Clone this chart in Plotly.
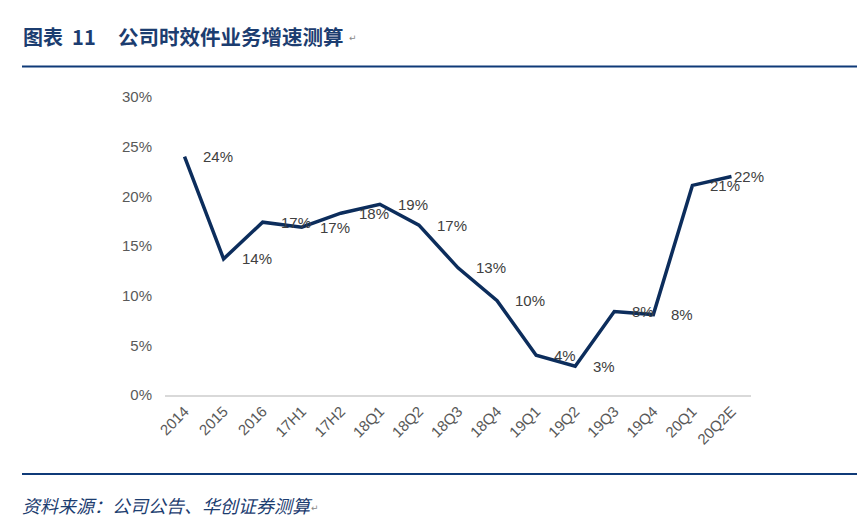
import plotly.graph_objects as go

categories = ["2014", "2015", "2016", "17H1", "17H2", "18Q1", "18Q2", "18Q3",
              "18Q4", "19Q1", "19Q2", "19Q3", "19Q4", "20Q1", "20Q2E"]
growth = [0.240, 0.137, 0.174, 0.169, 0.183, 0.192, 0.171, 0.128,
          0.095, 0.040, 0.029, 0.084, 0.081, 0.211, 0.220]
labels = ["24%", "14%", "17%", "17%", "18%", "19%", "17%", "13%",
          "10%", "4%", "3%", "8%", "8%", "21%", "22%"]
y_ticks = [0, 0.05, 0.10, 0.15, 0.20, 0.25, 0.30]

# page body has an 8px margin; figure fills the rest of the 865x523 window
OFF = 8
W, H = 865 - OFF, 523 - OFF
def py(p):
    return 1 - (p - OFF) / H
def px(p):
    return (p - OFF) / W

TEXT_FONT = "Liberation Sans, Arial, sans-serif"
CJK = "Noto Sans CJK SC"
NAVY = "#0f3a78"

fig = go.Figure()
fig.add_trace(go.Scatter(
    x=categories, y=growth, mode="lines",
    line=dict(color="#0c2d5c", width=3.5),
    hoverinfo="skip", showlegend=False,
))

annotations = []
n = len(categories)
for i, (v, t) in enumerate(zip(growth, labels)):
    # last label is pulled in towards its point to stay inside the chart area
    shift = 1 if i == n - 1 else 16
    annotations.append(dict(
        x=i, y=v, xref="x", yref="y", text=t, showarrow=False,
        xanchor="left", yanchor="middle", xshift=shift,
        font=dict(family=TEXT_FONT, size=15, color="#404040"),
    ))

# title
annotations.append(dict(x=px(21), y=py(36), xref="paper", yref="paper",
    text="<b>图表  11</b>", showarrow=False, xanchor="left", yanchor="middle",
    font=dict(family=CJK, size=20, color="#1c3d70")))
annotations.append(dict(x=px(116), y=py(36), xref="paper", yref="paper",
    text="<b>公司时效件业务增速测算</b>", showarrow=False, xanchor="left", yanchor="middle",
    font=dict(family=CJK, size=20.5, color="#1c3d70")))
annotations.append(dict(x=px(347), y=py(38), xref="paper", yref="paper",
    text="↵", showarrow=False, xanchor="left", yanchor="middle",
    font=dict(family="DejaVu Sans", size=9, color="#888888")))
# footer
annotations.append(dict(x=px(20), y=py(505), xref="paper", yref="paper",
    text="<i>资料来源：公司公告、华创证券测算</i>", showarrow=False, xanchor="left", yanchor="middle",
    font=dict(family=CJK, size=18, color="#1c3d70")))
annotations.append(dict(x=px(309), y=py(508), xref="paper", yref="paper",
    text="↵", showarrow=False, xanchor="left", yanchor="middle",
    font=dict(family="DejaVu Sans", size=9, color="#888888")))
for yy in (39, 87, 493):
    annotations.append(dict(x=px(856), y=py(yy), xref="paper", yref="paper",
        text="◂", showarrow=False, xanchor="left", yanchor="middle",
        font=dict(family="DejaVu Sans", size=7, color="#999999")))

shapes = [
    dict(type="line", xref="paper", yref="paper", x0=px(22), x1=px(857),
         y0=py(66.5), y1=py(66.5), line=dict(color=NAVY, width=2)),
    dict(type="line", xref="paper", yref="paper", x0=px(22), x1=px(857),
         y0=py(474), y1=py(474), line=dict(color=NAVY, width=2)),
]

fig.update_layout(
    width=W, height=H,
    margin=dict(l=0, r=0, t=0, b=0),
    paper_bgcolor="white", plot_bgcolor="white",
    annotations=annotations, shapes=shapes,
    xaxis=dict(
        domain=[px(165), px(751)], type="category",
        range=[-0.5, n - 0.5], automargin=False,
        showgrid=False, zeroline=False,
        showline=True, linecolor="#d9d9d9", linewidth=1.5,
        tickangle=-45, ticks="",
        tickfont=dict(family=TEXT_FONT, size=15, color="#595959"),
    ),
    yaxis=dict(
        domain=[py(395), py(97)], range=[0, 0.30], automargin=False,
        tickvals=y_ticks, tickformat=".0%",
        showgrid=False, zeroline=False, showline=False, ticks="",
        ticklabelstandoff=12,
        tickfont=dict(family=TEXT_FONT, size=15, color="#595959"),
    ),
)

fig.write_html("out.html")
